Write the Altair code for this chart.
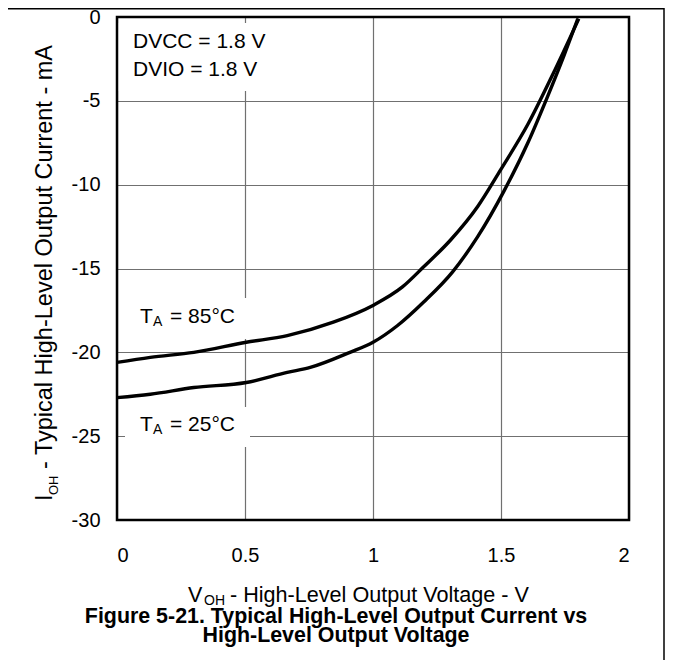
import altair as alt
import pandas as pd

# ---- data ----
v_85 = [0, 0.13, 0.30, 0.505, 0.665, 0.845, 1.0, 1.115, 1.198, 1.303, 1.409, 1.499, 1.605, 1.703, 1.804]
i_85 = [-20.6, -20.3, -20.0, -19.4, -19.0, -18.2, -17.2, -16.1, -14.9, -13.3, -11.3, -9.1, -6.4, -3.4, -0.1]
v_25 = [0, 0.13, 0.30, 0.505, 0.665, 0.755, 0.91, 1.0, 1.096, 1.198, 1.311, 1.409, 1.511, 1.605, 1.683, 1.746, 1.80]
i_25 = [-22.7, -22.5, -22.1, -21.8, -21.2, -20.9, -20.0, -19.4, -18.4, -17.0, -15.2, -13.1, -10.4, -7.5, -4.7, -2.3, -0.1]
x_ticks = [0, 0.5, 1, 1.5, 2]
y_ticks = [0, -5, -10, -15, -20, -25, -30]

FONT = "Liberation Sans, Arial, Helvetica"
W, H = 512, 503

df = pd.concat([
    pd.DataFrame({"v": v_85, "i": i_85, "t": "85"}),
    pd.DataFrame({"v": v_25, "i": i_25, "t": "25"}),
])

xs = alt.Scale(domain=[0, 2], nice=False)
ys = alt.Scale(domain=[-30, 0], nice=False)

base_axes = alt.Chart(df).mark_line(opacity=0).encode(
    x=alt.X("v:Q", scale=xs, axis=alt.Axis(values=x_ticks, labelExpr="'' + datum.value",
                                            title=None, labelPadding=25)),
    y=alt.Y("i:Q", scale=ys, axis=alt.Axis(values=y_ticks, labelExpr="'' + datum.value",
                                            title=None, labelPadding=17)),
)

def one():
    return alt.Chart(pd.DataFrame({"k": [0]}))

def box(x0, x1, y0, y1):
    return one().mark_rect(fill="white", stroke=None).encode(
        x=alt.value(x0), x2=alt.value(x1), y=alt.value(y0), y2=alt.value(y1))

def txt(s, x, y, size=21, angle=0, weight="normal", align="left"):
    return one().mark_text(text=s, font=FONT, fontSize=size, angle=angle, align=align,
                           baseline="alphabetic", fontWeight=weight, color="black").encode(
        x=alt.value(x), y=alt.value(y))

boxes = [box(1, 163, 6, 74), box(8, 133, 281, 322), box(8, 133, 390, 430)]

lines = alt.Chart(df).mark_line(color="black", strokeWidth=3.4, interpolate="monotone").encode(
    x=alt.X("v:Q", scale=xs), y=alt.Y("i:Q", scale=ys), detail="t:N")

texts = [
    txt("DVCC = 1.8 V", 16, 31),
    txt("DVIO = 1.8 V", 16, 59),
    txt("T", 23, 306), txt("A", 36, 309, size=14), txt("= 85°C", 53, 306),
    txt("T", 23, 414), txt("A", 36, 417, size=14), txt("= 25°C", 53, 414),
    # y axis title (rotated)
    txt("I", -65, 484, size=23.5, angle=270), txt("OH", -59, 478, size=13, angle=270),
    txt("- Typical High-Level Output Current - mA", -65, 452, size=23.5, angle=270),
    # x axis title
    txt("V", 71, 585, size=21.5), txt("OH", 87, 588, size=14),
    txt("- High-Level Output Voltage - V", 113, 585, size=21.6),
    # caption
    txt("Figure 5-21. Typical High-Level Output Current vs", 219, 606, size=21.4, weight="bold", align="center"),
    txt("High-Level Output Voltage", 219, 625, size=21.4, weight="bold", align="center"),
]

border = one().mark_rect(fill=None, stroke="black", strokeWidth=2.5).encode(
    x=alt.value(0), x2=alt.value(W), y=alt.value(0), y2=alt.value(H))

frame_top = one().mark_rule(color="black", strokeWidth=1.5).encode(
    x=alt.value(-109), x2=alt.value(547), y=alt.value(-8.2))
frame_right = one().mark_rule(color="black", strokeWidth=1.5).encode(
    x=alt.value(547), y=alt.value(-9), y2=alt.value(643))

chart = alt.layer(base_axes, *boxes, lines, *texts, border, frame_top, frame_right).properties(
    width=W, height=H,
    autosize=alt.AutoSizeParams(type="none"),
    padding={"left": 109, "top": 9, "right": 36, "bottom": 140},
    background="white",
).configure_view(stroke=None).configure_axis(
    domain=False, ticks=False, grid=True, gridColor="#707070", gridWidth=1.2,
    labelFont=FONT, labelFontSize=20, labelColor="black",
)

chart.save("out.html", embed_options={"renderer": "svg", "actions": False})
